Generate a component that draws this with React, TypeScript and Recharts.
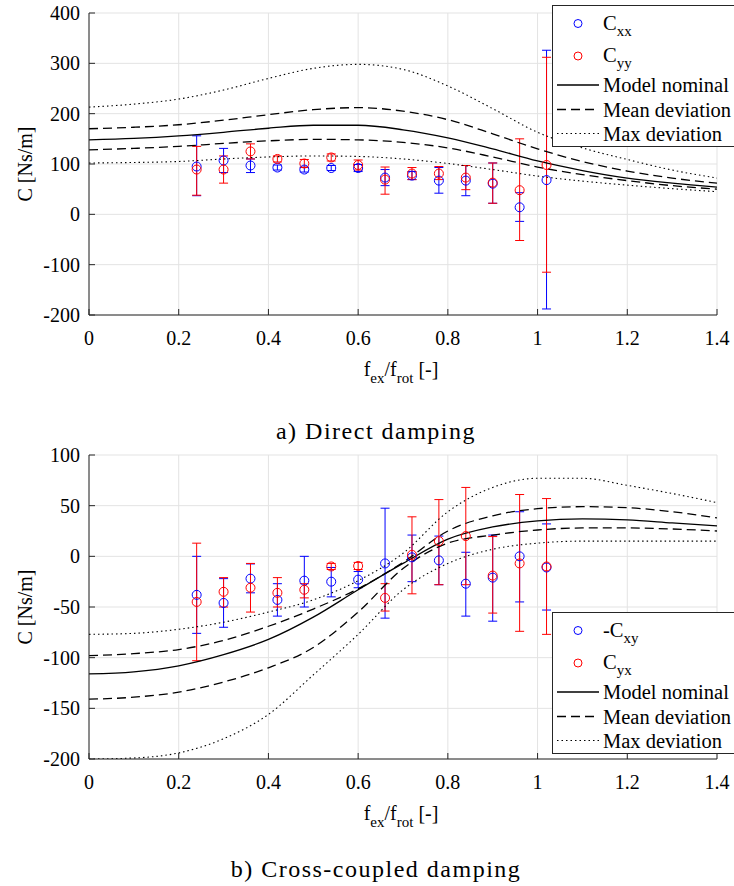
import React from 'react';
import { ComposedChart, Line, Scatter, ErrorBar, XAxis, YAxis, CartesianGrid } from 'recharts';

// model curves, sampled every 0.1 of f_ex/f_rot
const MODEL_X = [0, 0.1, 0.2, 0.3, 0.4, 0.5, 0.6, 0.7, 0.8, 0.9, 1.0, 1.1, 1.2, 1.3, 1.4];

const DIRECT_NOMINAL = [148, 151, 156, 163, 171, 177, 177, 168, 152, 130, 106, 87, 72, 62, 54];
const DIRECT_MEAN_HI = [170, 173, 178, 187, 198, 208, 212, 205, 188, 160, 130, 105, 86, 72, 62];
const DIRECT_MEAN_LO = [128, 131, 135, 141, 146, 149, 148, 143, 132, 114, 94, 79, 67, 57, 50];
const DIRECT_MAX_HI = [213, 219, 229, 247, 270, 290, 298, 288, 255, 210, 163, 132, 109, 88, 72];
const DIRECT_MAX_LO = [102, 103, 105, 110, 114, 116, 115, 110, 101, 89, 76, 66, 58, 51, 45];

const CROSS_NOMINAL = [-116, -114, -108, -97, -82, -60, -33, -7, 17, 29, 35, 37, 36, 33, 30];
const CROSS_MEAN_HI = [-98, -96, -92, -83, -69, -52, -32, -6, 25, 40, 47, 49, 48, 44, 38];
const CROSS_MEAN_LO = [-141, -139, -134, -124, -110, -90, -55, -12, 13, 21, 26, 28, 28, 27, 25];
const CROSS_MAX_HI = [-77, -76, -72, -65, -55, -43, -24, 3, 44, 68, 77, 77, 70, 62, 53];
const CROSS_MAX_LO = [-200, -199, -194, -180, -156, -117, -77, -33, -7, 7, 13, 15, 15, 15, 15];

// measured points
const POINT_X = [0.24, 0.3, 0.36, 0.42, 0.48, 0.54, 0.6, 0.66, 0.72, 0.78, 0.84, 0.9, 0.96, 1.02];

const CXX = [95, 107, 97, 93, 89, 92, 92, 73, 77, 67, 67, 61, 14, 68];
const CXX_LO = [37, 83, 83, 88, 84, 87, 85, 57, 69, 42, 37, 22, -14, -188];
const CXX_HI = [156, 131, 110, 98, 94, 97, 99, 89, 85, 93, 97, 102, 43, 326];

const CYY = [89, 89, 125, 110, 101, 113, 98, 69, 81, 81, 73, 63, 48, 98];
const CYY_LO = [38, 62, 110, 104, 93, 106, 88, 40, 69, 69, 49, 22, -52, -115];
const CYY_HI = [135, 116, 140, 116, 109, 120, 108, 94, 93, 95, 97, 102, 150, 312];

const CXY_NEG = [-38, -46, -22, -43, -24, -25, -23, -7, -1, -4, -27, -21, 0, -11];
const CXY_NEG_LO = [-76, -70, -36, -59, -50, -40, -31, -61, -25, -28, -59, -64, -45, -53];
const CXY_NEG_HI = [0, -22, -7.5, -27, 0, -11, -15, 47.5, 21, 20, 4, 21, 44, 32];

const CYX = [-45, -35, -31, -36, -33, -10, -9.5, -41, 1.5, 15, 20, -19, -7, -10];
const CYX_LO = [-103, -50, -55, -50, -41, -13, -13, -54, -37, -28, -28, -56, -74, -77];
const CYX_HI = [13, -21, -7, -21, -27, -7, -6, -27, 39, 56, 68, 19.5, 61, 57];

const X_TICKS = [0, 0.2, 0.4, 0.6, 0.8, 1, 1.2, 1.4];
const DIRECT_TICKS = [-200, -100, 0, 100, 200, 300, 400];
const CROSS_TICKS = [-200, -150, -100, -50, 0, 50, 100];

const FONT = "'Liberation Serif', 'Times New Roman', serif";
const AXIS_COLOR = '#262626';
const BLUE = '#0000ff';
const RED = '#ff0000';

const buildModel = (nominal: number[], meanHi: number[], meanLo: number[], maxHi: number[], maxLo: number[]) =>
  MODEL_X.map((x, i) => ({
    x,
    nominal: nominal[i],
    meanHi: meanHi[i],
    meanLo: meanLo[i],
    maxHi: maxHi[i],
    maxLo: maxLo[i],
  }));

const buildPoints = (vals: number[], lo: number[], hi: number[]) =>
  POINT_X.map((x, i) => ({ x, y: vals[i], err: [vals[i] - lo[i], hi[i] - vals[i]] }));

const openCircle = (color: string) => (props: any) =>
  <circle cx={props.cx} cy={props.cy} r={4.5} fill="none" stroke={color} strokeWidth={1} />;

const renderXLabel = (props: any) => {
  const { viewBox } = props;
  const cx = viewBox.x + viewBox.width / 2 - 2;
  return (
    <text x={cx} y={viewBox.y + 61} textAnchor="middle" fontFamily={FONT} fontSize={20} fill="#000">
      f<tspan dy={7} fontSize={15}>ex</tspan>
      <tspan dy={-7}>/f</tspan>
      <tspan dy={7} fontSize={15}>rot</tspan>
      <tspan dy={-7}>{' [-]'}</tspan>
    </text>
  );
};

const renderYLabel = (props: any) => {
  const { viewBox } = props;
  const x = viewBox.x - 4;
  const y = viewBox.y + viewBox.height / 2;
  return (
    <text x={x} y={y} transform={`rotate(-90 ${x} ${y})`} textAnchor="middle" dominantBaseline="central"
      fontFamily={FONT} fontSize={20} fill="#000">
      C [Ns/m]
    </text>
  );
};

interface PanelProps {
  top: number;
  marginTop: number;
  marginBottom: number;
  model: any[];
  first: any[];
  second: any[];
  domain: [number, number];
  yTicks: number[];
}

const DampingPanel: React.FC<PanelProps> = ({ top, marginTop, marginBottom, model, first, second, domain, yTicks }) => {
  const tickStyle = { fill: '#000', fontSize: 20, fontFamily: FONT };
  return (
    <div style={{ position: 'absolute', left: 0, top }}>
      <ComposedChart width={734} height={400} data={model}
        margin={{ top: marginTop, right: 17, bottom: marginBottom, left: 29 }}>
        <CartesianGrid stroke="#e3e3e3" />
        <XAxis dataKey="x" type="number" domain={[0, 1.4]} ticks={X_TICKS} interval={0} height={70}
          stroke={AXIS_COLOR} tickSize={-6} tickMargin={22} tick={tickStyle} allowDataOverflow label={renderXLabel} />
        <XAxis xAxisId="top" orientation="top" dataKey="x" type="number" domain={[0, 1.4]} ticks={X_TICKS}
          interval={0} height={0} stroke={AXIS_COLOR} tickSize={-6} tickFormatter={() => ''} allowDataOverflow />
        <YAxis type="number" domain={domain} ticks={yTicks} interval={0} width={60} stroke={AXIS_COLOR}
          tickSize={-6} tickMargin={15} tick={tickStyle} allowDataOverflow label={renderYLabel} />
        <YAxis yAxisId="right" orientation="right" type="number" domain={domain} ticks={yTicks} interval={0}
          width={0} stroke={AXIS_COLOR} tickSize={-6} tickFormatter={() => ''} allowDataOverflow />

        <Scatter data={first} dataKey="y" shape={openCircle(BLUE)} isAnimationActive={false}>
          <ErrorBar dataKey="err" direction="y" width={4.5} stroke={BLUE} strokeWidth={1} isAnimationActive={false} />
        </Scatter>
        <Scatter data={second} dataKey="y" shape={openCircle(RED)} isAnimationActive={false}>
          <ErrorBar dataKey="err" direction="y" width={4.5} stroke={RED} strokeWidth={1} isAnimationActive={false} />
        </Scatter>

        <Line type="monotone" dataKey="maxHi" stroke="#000" strokeWidth={1.1} strokeDasharray="1.5 3"
          dot={false} activeDot={false} isAnimationActive={false} />
        <Line type="monotone" dataKey="maxLo" stroke="#000" strokeWidth={1.1} strokeDasharray="1.5 3"
          dot={false} activeDot={false} isAnimationActive={false} />
        <Line type="monotone" dataKey="meanHi" stroke="#000" strokeWidth={1.3} strokeDasharray="9 5"
          dot={false} activeDot={false} isAnimationActive={false} />
        <Line type="monotone" dataKey="meanLo" stroke="#000" strokeWidth={1.3} strokeDasharray="9 5"
          dot={false} activeDot={false} isAnimationActive={false} />
        <Line type="monotone" dataKey="nominal" stroke="#000" strokeWidth={1.3}
          dot={false} activeDot={false} isAnimationActive={false} />
      </ComposedChart>
    </div>
  );
};

const LegendBox: React.FC<{ top: number; firstLabel: string; firstSub: string; secondLabel: string; secondSub: string }> = ({
  top, firstLabel, firstSub, secondLabel, secondSub,
}) => {
  const rows = [18.5, 51, 80, 104.5, 128.5];
  const textProps = { fontFamily: FONT, fontSize: 20.5, fill: '#000' };
  return (
    <svg style={{ position: 'absolute', left: 0, top }} width={734} height={145}>
      <rect x={552.5} y={0.5} width={200} height={141} fill="#fff" stroke={AXIS_COLOR} strokeWidth={1} />
      <circle cx={578} cy={rows[0]} r={4} fill="none" stroke={BLUE} strokeWidth={1} />
      <text x={603} y={rows[0] + 6} {...textProps}>
        {firstLabel}<tspan dy={6} fontSize={15}>{firstSub}</tspan>
      </text>
      <circle cx={578} cy={rows[1]} r={4} fill="none" stroke={RED} strokeWidth={1} />
      <text x={603} y={rows[1] + 6} {...textProps}>
        {secondLabel}<tspan dy={6} fontSize={15}>{secondSub}</tspan>
      </text>
      <line x1={557} x2={599} y1={rows[2]} y2={rows[2]} stroke="#000" strokeWidth={1.3} />
      <text x={603} y={rows[2] + 7} {...textProps}>Model nominal</text>
      <line x1={557} x2={599} y1={rows[3]} y2={rows[3]} stroke="#000" strokeWidth={1.3} strokeDasharray="9 5" />
      <text x={603} y={rows[3] + 7} {...textProps}>Mean deviation</text>
      <line x1={557} x2={599} y1={rows[4]} y2={rows[4]} stroke="#000" strokeWidth={1.1} strokeDasharray="1.5 3" />
      <text x={603} y={rows[4] + 7} {...textProps}>Max deviation</text>
    </svg>
  );
};

const captionStyle = (top: number): React.CSSProperties => ({
  position: 'absolute',
  left: 0,
  width: 752,
  top,
  textAlign: 'center',
  fontFamily: FONT,
  fontSize: 24,
  letterSpacing: 1.5,
  color: '#000',
  lineHeight: '28px',
});

export default function App() {
  const directModel = buildModel(DIRECT_NOMINAL, DIRECT_MEAN_HI, DIRECT_MEAN_LO, DIRECT_MAX_HI, DIRECT_MAX_LO);
  const crossModel = buildModel(CROSS_NOMINAL, CROSS_MEAN_HI, CROSS_MEAN_LO, CROSS_MAX_HI, CROSS_MAX_LO);

  return (
    <div style={{ position: 'absolute', left: 0, top: 0, width: 734, height: 886, background: '#fff', overflow: 'hidden' }}>
      <DampingPanel top={0} marginTop={13} marginBottom={15} model={directModel}
        first={buildPoints(CXX, CXX_LO, CXX_HI)} second={buildPoints(CYY, CYY_LO, CYY_HI)}
        domain={[-200, 400]} yTicks={DIRECT_TICKS} />
      <LegendBox top={5} firstLabel="C" firstSub="xx" secondLabel="C" secondSub="yy" />
      <div style={captionStyle(417)}>a) Direct damping</div>

      <DampingPanel top={440} marginTop={15} marginBottom={11} model={crossModel}
        first={buildPoints(CXY_NEG, CXY_NEG_LO, CXY_NEG_HI)} second={buildPoints(CYX, CYX_LO, CYX_HI)}
        domain={[-200, 100]} yTicks={CROSS_TICKS} />
      <LegendBox top={612} firstLabel="-C" firstSub="xy" secondLabel="C" secondSub="yx" />
      <div style={captionStyle(855)}>b) Cross-coupled damping</div>
    </div>
  );
}
